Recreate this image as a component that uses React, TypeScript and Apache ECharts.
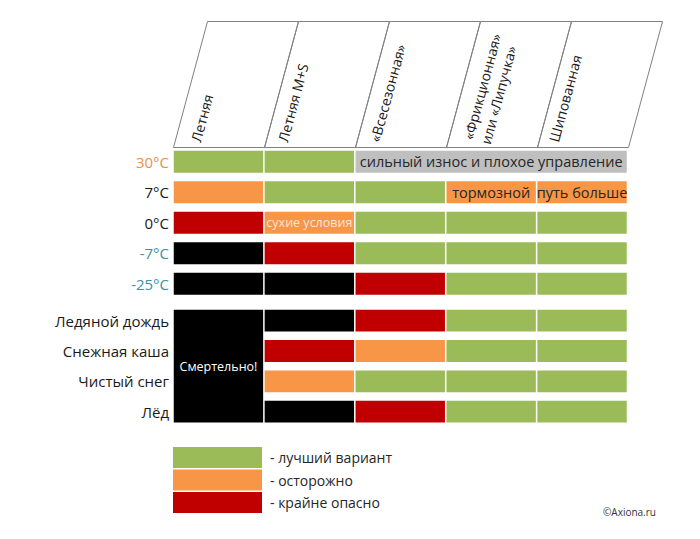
import React, { useEffect, useRef } from 'react';
import * as echarts from 'echarts';

// ---------- data ----------
const tireTypes = ['Летняя', 'Летняя M+S', '«Всесезонная»', '«Фрикционная»\nили «Липучка»', 'Шипованная'];
const temperatureRows = ['30°C', '7°C', '0°C', '-7°C', '-25°C'];
const roadRows = ['Ледяной дождь', 'Снежная каша', 'Чистый снег', 'Лёд'];

// B = лучший вариант, C = осторожно, D = крайне опасно, K = смертельно, W = сильный износ
const temperatureStatus = [
  ['B', 'B', 'W', 'W', 'W'],
  ['C', 'B', 'B', 'C', 'C'],
  ['D', 'C', 'B', 'B', 'B'],
  ['K', 'D', 'B', 'B', 'B'],
  ['K', 'K', 'D', 'B', 'B'],
];
const roadStatus = [
  ['K', 'K', 'D', 'B', 'B'],
  ['K', 'D', 'C', 'B', 'B'],
  ['K', 'C', 'B', 'B', 'B'],
  ['K', 'K', 'D', 'B', 'B'],
];
const mergedCells = [
  { block: 0, r0: 0, r1: 0, c0: 2, c1: 4, note: 'сильный износ и плохое управление' },
  { block: 1, r0: 0, r1: 3, c0: 0, c1: 0, note: 'Смертельно!' },
];
const cellNotes = [
  { block: 0, r: 1, c: 3, note: 'тормозной' },
  { block: 0, r: 1, c: 4, note: 'путь больше' },
  { block: 0, r: 2, c: 1, note: 'сухие условия' },
];
const statusCodes = ['B', 'C', 'D', 'K', 'W'];
const statusNames: Record<string, string> = {
  B: 'лучший вариант',
  C: 'осторожно',
  D: 'крайне опасно',
  K: 'смертельно',
  W: 'сильный износ',
};
const legendItems = ['лучший вариант', 'осторожно', 'крайне опасно'];
const credit = '©Axiona.ru';

// ---------- styles ----------
const FONT = '"Open Sans", "Noto Sans", sans-serif';
const statusColor: Record<string, string> = {
  B: '#9BBB59',
  C: '#F79646',
  D: '#C00000',
  K: '#000000',
  W: '#BFBFBF',
};
const noteTextColor: Record<string, string> = {
  'сухие условия': '#FCE4D6',
  'Смертельно!': '#FFFFFF',
};
const noteFontSize: Record<string, number> = {
  'сухие условия': 12.5,
  'Смертельно!': 12.5,
};
const rowLabelColor: Record<string, string> = {
  '30°C': '#E8914A',
  '-7°C': '#3F8FA8',
  '-25°C': '#3F8FA8',
};
const headerTextOffset = [22, 18, 19, 30, 16];
const HEADER_H = 126;
const HEADER_SLANT = 34;
const BAR_FRAC = 0.72;

type Cell = [number, number, number, number, string];

function buildCells(block: number, matrix: string[][]): Record<string, Cell[]> {
  const out: Record<string, Cell[]> = {};
  statusCodes.forEach((s) => (out[s] = []));
  const covered = new Set<string>();
  mergedCells
    .filter((m) => m.block === block)
    .forEach((m) => {
      for (let r = m.r0; r <= m.r1; r++) for (let c = m.c0; c <= m.c1; c++) covered.add(r + ',' + c);
      out[matrix[m.r0][m.c0]].push([m.c0, m.r0, m.c1, m.r1, m.note]);
    });
  matrix.forEach((row, r) =>
    row.forEach((s, c) => {
      if (covered.has(r + ',' + c)) return;
      const n = cellNotes.find((x) => x.block === block && x.r === r && x.c === c);
      out[s].push([c, r, c, r, n ? n.note : '']);
    })
  );
  return out;
}

function cellSeries(block: number, matrix: string[][]) {
  const cells = buildCells(block, matrix);
  return statusCodes.map((s) => {
    const data = cells[s];
    return {
      type: 'custom',
      name: statusNames[s],
      xAxisIndex: block,
      yAxisIndex: block,
      itemStyle: { color: statusColor[s] },
      clip: false,
      data: data.map((d) => [d[0], d[1], d[2], d[3]]),
      renderItem: (params: any, api: any) => {
        const d = data[params.dataIndex];
        const p0 = api.coord([d[0], d[1]]);
        const p1 = api.coord([d[2], d[3]]);
        const size = api.size([1, 1]);
        const bw = size[0];
        const bh = size[1];
        const barH = bh * BAR_FRAC;
        const x = p0[0] - bw / 2 + 0.75;
        const w = p1[0] - p0[0] + bw - 1.5;
        const y = p0[1] - barH / 2;
        const h = p1[1] - p0[1] + barH;
        const children: any[] = [
          { type: 'rect', shape: { x, y, width: w, height: h }, style: { fill: statusColor[s] } },
        ];
        if (d[4]) {
          children.push({
            type: 'text',
            x: x + w / 2,
            y: y + h / 2,
            style: {
              text: d[4],
              align: 'center',
              verticalAlign: 'middle',
              font: (noteFontSize[d[4]] || 14.5) + 'px ' + FONT,
              fill: noteTextColor[d[4]] || '#262626',
            },
          });
        }
        return { type: 'group', children };
      },
    };
  });
}

const headerSeries = {
  type: 'custom',
  name: 'header',
  xAxisIndex: 0,
  yAxisIndex: 0,
  clip: false,
  data: tireTypes.map((_, i) => [i, 0]),
  renderItem: (params: any, api: any) => {
    const i = params.dataIndex;
    const p = api.coord([i, 0]);
    const size = api.size([1, 1]);
    const bw = size[0];
    const xL = Math.round(p[0] - bw / 2) + 0.5;
    const xR = Math.round(p[0] + bw / 2) + 0.5;
    const yB = Math.round(p[1] - size[1] / 2) + 0.5;
    const yT = yB - HEADER_H;
    return {
      type: 'group',
      children: [
        {
          type: 'polyline',
          shape: {
            points: [
              [xL, yB],
              [xL + HEADER_SLANT, yT],
              [xR + HEADER_SLANT, yT],
              [xR, yB],
              [xL, yB],
            ],
          },
          style: { stroke: '#808080', lineWidth: 1, fill: null },
        },
        {
          type: 'text',
          x: xL + headerTextOffset[i],
          y: yB - 6,
          rotation: (74.9 * Math.PI) / 180,
          style: {
            text: tireTypes[i],
            align: 'left',
            verticalAlign: 'middle',
            font: '14px ' + FONT,
            lineHeight: 18,
            fill: '#1a1a1a',
          },
        },
      ],
    };
  },
};

function yAxisFor(gridIndex: number, rows: string[]) {
  return {
    type: 'category',
    gridIndex,
    inverse: true,
    data: rows.map((r) => ({ value: r, textStyle: { color: rowLabelColor[r] || '#1a1a1a' } })),
    axisLine: { show: false },
    axisTick: { show: false },
    splitLine: { show: false },
    axisLabel: { margin: 4, fontSize: 15, fontFamily: FONT },
  };
}

export default function App() {
  const ref = useRef<HTMLDivElement>(null);
  useEffect(() => {
    if (!ref.current) return;
    const chart = echarts.init(ref.current, undefined, { renderer: 'svg' });
    chart.setOption({
      animation: false,
      backgroundColor: '#ffffff',
      grid: [
        { left: 173, width: 454.5, top: 146.5, height: 152.5 },
        { left: 173, width: 454.5, top: 305.5, height: 121.3 },
      ],
      xAxis: [
        { type: 'category', gridIndex: 0, data: tireTypes, show: false },
        { type: 'category', gridIndex: 1, data: tireTypes, show: false },
      ],
      yAxis: [yAxisFor(0, temperatureRows), yAxisFor(1, roadRows)],
      legend: {
        orient: 'vertical',
        left: 173,
        top: 447,
        padding: 0,
        itemWidth: 89,
        itemHeight: 21,
        itemGap: 1.5,
        icon: 'rect',
        selectedMode: false,
        data: legendItems,
        formatter: (n: string) => '- ' + n,
        textStyle: { fontFamily: FONT, fontSize: 14, color: '#262626', padding: [0, 0, 0, 3] },
      },
      graphic: [
        {
          type: 'text',
          x: 603,
          y: 512,
          style: { text: credit, font: '10px ' + FONT, fill: '#333333', verticalAlign: 'middle' },
        },
      ],
      series: [headerSeries, ...cellSeries(0, temperatureStatus), ...cellSeries(1, roadStatus)],
    });
    return () => chart.dispose();
  }, []);
  return (
    <div
      ref={ref}
      style={{ position: 'fixed', left: 0, top: 0, width: 700, height: 539, background: '#fff' }}
    />
  );
}
